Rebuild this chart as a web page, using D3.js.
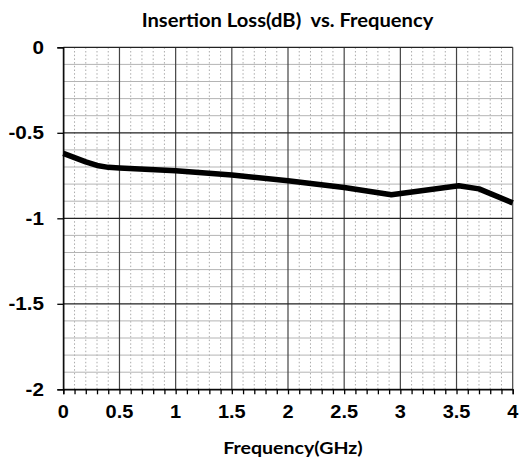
<!DOCTYPE html>
<html>
<head>
<meta charset="utf-8">
<script src="https://cdn.jsdelivr.net/npm/d3@7"></script>
<style>
  body { margin: 0; background: #fff; }
  svg { display: block; }
</style>
</head>
<body>
<svg id="chart" width="524" height="459"></svg>
<script>
const frequency = [0, 0.1, 0.2, 0.3, 0.4, 0.5, 1.0, 1.5, 2.0, 2.5, 2.92, 3.52, 3.7, 4.0];
const insertionLoss = [-0.62, -0.645, -0.67, -0.691, -0.702, -0.706, -0.722, -0.747, -0.78, -0.82, -0.862, -0.81, -0.828, -0.91];
const xTicks = [0, 0.5, 1, 1.5, 2, 2.5, 3, 3.5, 4];
const yTicks = [0, -0.5, -1, -1.5, -2];

const width = 524;
const height = 459;
const margin = { top: 47.3, right: 11.3, bottom: 69.7, left: 63.3 };

const svg = d3.select('#chart');

const x = d3.scaleLinear().domain([0, 4]).range([margin.left, width - margin.right]);
const y = d3.scaleLinear().domain([-2, 0]).range([height - margin.bottom, margin.top]);

const minorX = d3.range(0, 41).map((d) => d / 10).filter((d) => Math.round(d * 10) % 5 !== 0);
const minorY = d3.range(-20, 1).map((d) => d / 10).filter((d) => Math.round(d * 10) % 5 !== 0);

// stretch text horizontally, the source picture is wider than tall
const stretch = (sel, k) => {
  sel.each(function () {
    const w = this.getComputedTextLength();
    d3.select(this).attr('textLength', w * k).attr('lengthAdjust', 'spacingAndGlyphs');
  });
};

const grid = svg.append('g').attr('class', 'grid');

// 1. minor grid
grid.selectAll('.minor-x')
  .data(minorX)
  .join('line')
  .attr('x1', (d) => x(d)).attr('x2', (d) => x(d))
  .attr('y1', y(0)).attr('y2', y(-2))
  .attr('stroke', '#ababab')
  .attr('stroke-width', 1)
  .attr('stroke-dasharray', '1.5,2.2');

grid.selectAll('.minor-y')
  .data(minorY)
  .join('line')
  .attr('x1', x(0)).attr('x2', x(4))
  .attr('y1', (d) => y(d)).attr('y2', (d) => y(d))
  .attr('stroke', '#b4b4b4')
  .attr('stroke-width', 1);

// 2. major grid
grid.selectAll('.major-x')
  .data(xTicks)
  .join('line')
  .attr('x1', (d) => x(d)).attr('x2', (d) => x(d))
  .attr('y1', y(0)).attr('y2', y(-2))
  .attr('stroke', '#444')
  .attr('stroke-width', 1.2);

grid.selectAll('.major-y')
  .data(yTicks)
  .join('line')
  .attr('x1', x(0)).attr('x2', x(4))
  .attr('y1', (d) => y(d)).attr('y2', (d) => y(d))
  .attr('stroke', '#222')
  .attr('stroke-width', 1.2);

// 3. axes
const xAxis = d3.axisBottom(x)
  .tickValues(d3.range(0, 41).map((d) => d / 10))
  .tickSize(5)
  .tickFormat('');
svg.append('g')
  .attr('transform', `translate(0,${y(-2)})`)
  .call(xAxis)
  .call((g) => g.selectAll('path, line').attr('stroke', '#000').attr('stroke-width', 1.3));

const yAxis = d3.axisLeft(y)
  .tickValues(yTicks)
  .tickSize(6)
  .tickFormat('');
svg.append('g')
  .attr('transform', `translate(${x(0)},0)`)
  .call(yAxis)
  .call((g) => g.selectAll('path, line').attr('stroke', '#000').attr('stroke-width', 1.3));

// 4. tick labels (plain hyphen, not unicode minus)
svg.append('g')
  .selectAll('text')
  .data(xTicks)
  .join('text')
  .attr('x', (d) => x(d))
  .attr('y', 418)
  .attr('text-anchor', 'middle')
  .attr('font-family', 'Liberation Sans, Arial, sans-serif')
  .attr('font-weight', 'bold')
  .attr('font-size', 17.5)
  .text((d) => String(d))
  .call(stretch, 1.14);

svg.append('g')
  .selectAll('text')
  .data(yTicks)
  .join('text')
  .attr('x', 44)
  .attr('y', (d) => y(d))
  .attr('dy', '0.36em')
  .attr('text-anchor', 'end')
  .attr('font-family', 'Liberation Sans, Arial, sans-serif')
  .attr('font-weight', 'bold')
  .attr('font-size', 17.5)
  .text((d) => String(d))
  .call(stretch, 1.18);

// 5. data line
const line = d3.line()
  .x((d, i) => x(frequency[i]))
  .y((d) => y(d));

svg.append('path')
  .datum(insertionLoss)
  .attr('d', line)
  .attr('fill', 'none')
  .attr('stroke', '#000')
  .attr('stroke-width', 5.5)
  .attr('stroke-linejoin', 'round');

// 6. titles
svg.append('text')
  .attr('x', 287.5)
  .attr('y', 27)
  .attr('text-anchor', 'middle')
  .attr('font-family', 'Lato, sans-serif')
  .attr('font-weight', 'bold')
  .attr('font-size', 18)
  .attr('xml:space', 'preserve')
  .text('Insertion Loss(dB)  vs. Frequency')
  .call(stretch, 1.12);

svg.append('text')
  .attr('x', 293)
  .attr('y', 454)
  .attr('text-anchor', 'middle')
  .attr('font-family', 'Lato, sans-serif')
  .attr('font-weight', 'bold')
  .attr('font-size', 17)
  .text('Frequency(GHz)')
  .call(stretch, 1.15);
</script>
</body>
</html>
